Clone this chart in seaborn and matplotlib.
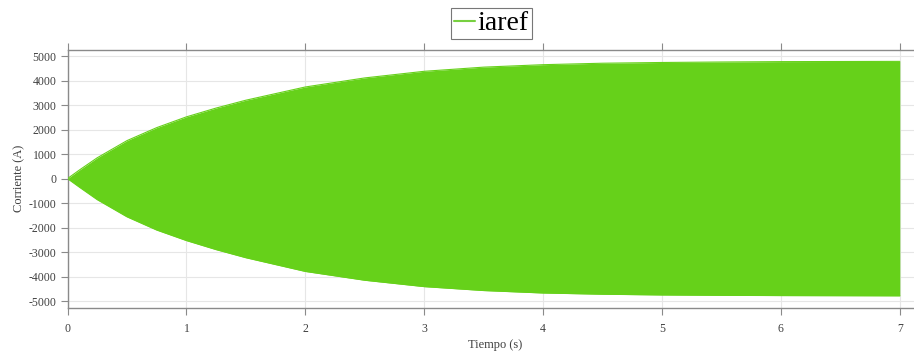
import matplotlib
matplotlib.use("Agg")
import matplotlib.pyplot as plt
from matplotlib.lines import Line2D
import seaborn as sns
import pandas as pd

# Envelope of the iaref current
time_s = [0, 0.1, 0.25, 0.5, 0.75, 1.0, 1.25, 1.5, 2.0, 2.5, 3.0, 3.5, 4.0, 4.5, 5.0, 5.5, 6.0, 6.5, 7.0]
upper_A = [0, 350, 850, 1550, 2080, 2520, 2880, 3200, 3740, 4110, 4380, 4550, 4650, 4710, 4740, 4760, 4775, 4780, 4785]
lower_A = [0, -350, -860, -1560, -2100, -2530, -2900, -3230, -3790, -4150, -4410, -4570, -4670, -4720, -4750, -4765, -4775, -4780, -4785]

x_ticks = [0, 1, 2, 3, 4, 5, 6, 7]
y_ticks = [-5000, -4000, -3000, -2000, -1000, 0, 1000, 2000, 3000, 4000, 5000]
series_name = "iaref"
green = "#66d11a"

df = pd.DataFrame({"t": time_s, "up": upper_A, "lo": lower_A})

sns.set_theme(style="whitegrid")
plt.rcParams["font.family"] = ["Liberation Serif", "DejaVu Serif"]

fig = plt.figure(figsize=(9.14, 3.56), dpi=100)
ax_w = 7.2 * 118.9 / 914
ax = fig.add_axes([67.5 / 914, 48.3 / 356, ax_w, 258.2 / 356])

ax.fill_between(df["t"], df["lo"], df["up"], color=green, linewidth=0, zorder=2)
sns.lineplot(data=df, x="t", y="up", ax=ax, color=green, linewidth=0.8, zorder=3)
sns.lineplot(data=df, x="t", y="lo", ax=ax, color=green, linewidth=0.8, zorder=3)

ax.set_xlim(0, 7.2)
ax.set_ylim(-5270, 5270)
ax.set_xticks(x_ticks)
ax.set_yticks(y_ticks)
ax.set_xticklabels([str(v) for v in x_ticks])
ax.set_yticklabels([str(v) for v in y_ticks])

ax.grid(True, color="#e6e6e6", linewidth=0.8)
ax.set_facecolor("white")
for side in ["left", "bottom", "top"]:
    ax.spines[side].set_visible(True)
    ax.spines[side].set_color("#8a8a8a")
    ax.spines[side].set_linewidth(1.0)
ax.spines["right"].set_visible(False)

ax.tick_params(axis="both", which="both", direction="out", length=5, width=0.8,
               color="#8a8a8a", labelsize=8.5, labelcolor="#404040")
ax.tick_params(axis="x", top=True, bottom=True, labeltop=False, pad=6)
ax.tick_params(axis="y", left=True, pad=3)

ax.set_xlabel("Tiempo (s)", fontsize=9, color="#404040", labelpad=3)
ax.set_ylabel("Corriente (A)", fontsize=9, color="#404040", labelpad=2)

handle = Line2D([0], [0], color="#77d040", linewidth=1.5)
leg = fig.legend([handle], [series_name], loc="center", bbox_to_anchor=(491.5 / 914, 1 - 23.5 / 356),
                 fontsize=20, frameon=True, fancybox=False, handlelength=0.75,
                 handletextpad=0.1, borderpad=0.1, borderaxespad=0)
leg.get_texts()[0].set_color("black")
leg.get_frame().set_edgecolor("#555555")
leg.get_frame().set_linewidth(0.8)

fig.savefig("out.png", dpi=100)
